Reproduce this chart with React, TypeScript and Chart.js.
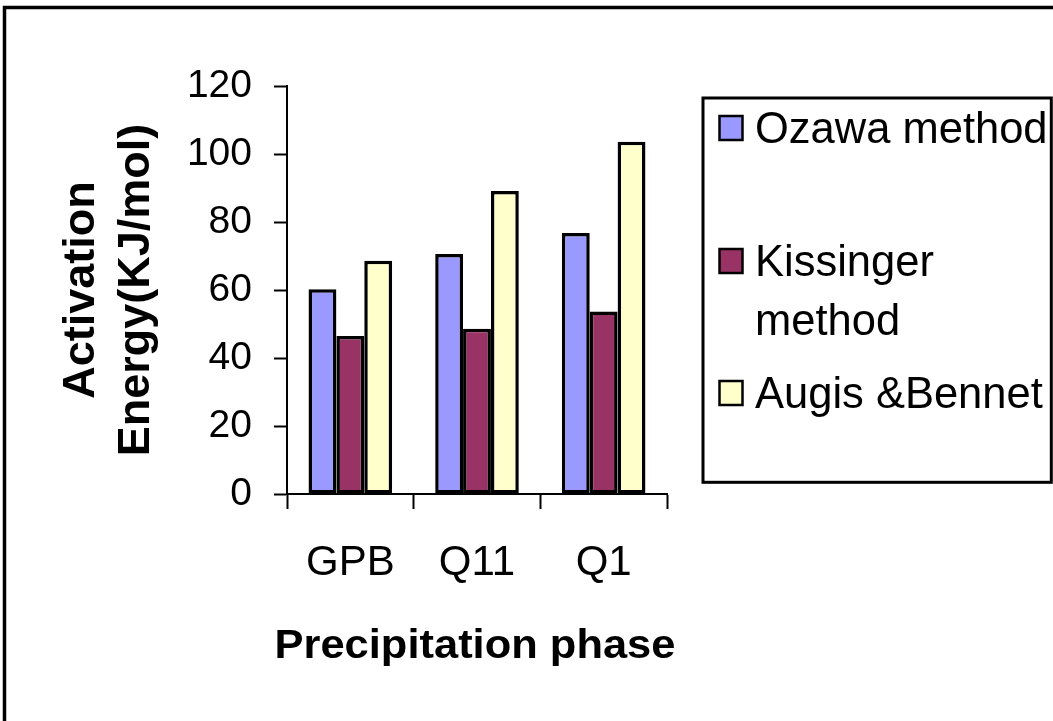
import { useEffect, useRef } from "react";
import { Chart, registerables } from "chart.js";

Chart.register(...registerables);

// Activation energy (kJ/mol) per precipitation phase and evaluation method
const phases = ["GPB", "Q11", "Q1"];
const ozawa = [60.2, 70.6, 76.8];
const kissinger = [46.5, 48.6, 53.7];
const augisBennet = [68.6, 89.1, 103.6];

const seriesNames = ["Ozawa method", "Kissinger method", "Augis &Bennet"];
const legendLines = [["Ozawa method"], ["Kissinger", "method"], ["Augis &Bennet"]];
const seriesColors = ["#9999FF", "#993366", "#FFFFCC"];

const yTicks = { min: 0, max: 120, step: 20 };
const yTitle = ["Activation", "Energy(KJ/mol)"];
const xTitle = "Precipitation phase";

const FONT = '"Liberation Sans", Arial, sans-serif';

// White page with the heavy outline along the top and left edges
const framePlugin = {
  id: "frame",
  beforeDraw(chart: any) {
    const { ctx, width, height } = chart;
    ctx.save();
    ctx.fillStyle = "#ffffff";
    ctx.fillRect(0, 0, width, height);
    ctx.strokeStyle = "#000000";
    ctx.lineWidth = 3.5;
    ctx.strokeRect(4.5, 7.5, width + 40, height + 40);
    ctx.restore();
  },
};

// Bold category-axis title, slightly widened, centred under the plot
const xTitlePlugin = {
  id: "xTitle",
  afterDraw(chart: any) {
    const { ctx, chartArea } = chart;
    const cx = (chartArea.left + chartArea.right) / 2 - 2;
    ctx.save();
    ctx.translate(cx, 647);
    ctx.scale(1.06, 1);
    ctx.fillStyle = "#000000";
    ctx.font = `bold 41px ${FONT}`;
    ctx.textAlign = "center";
    ctx.textBaseline = "middle";
    ctx.fillText(xTitle, 0, 0);
    ctx.restore();
  },
};

// Boxed legend on the right, with the long label wrapped onto two lines
const boxedLegendPlugin = {
  id: "boxedLegend",
  afterDraw(chart: any) {
    const { ctx } = chart;
    const box = { left: 703, top: 98, right: 1051.3, bottom: 482.3 };
    const baselines = [[143], [276, 335], [408]];
    ctx.save();
    ctx.strokeStyle = "#000000";
    ctx.lineWidth = 3;
    ctx.strokeRect(box.left, box.top, box.right - box.left, box.bottom - box.top);
    chart.data.datasets.forEach((ds: any, i: number) => {
      const b = baselines[i];
      ctx.fillStyle = ds.backgroundColor;
      ctx.fillRect(719.5, b[0] - 27, 23, 24);
      ctx.lineWidth = 2.5;
      ctx.strokeStyle = "#000000";
      ctx.strokeRect(719.5, b[0] - 27, 23, 24);
      ctx.fillStyle = "#000000";
      ctx.font = `43.5px ${FONT}`;
      ctx.textBaseline = "alphabetic";
      ctx.textAlign = "left";
      legendLines[i].forEach((line, j) => ctx.fillText(line, 755, b[j]));
    });
    ctx.restore();
  },
};

export default function App() {
  const canvasRef = useRef<HTMLCanvasElement | null>(null);

  useEffect(() => {
    if (!canvasRef.current) return;
    const series = [ozawa, kissinger, augisBennet];
    const chart = new Chart(canvasRef.current, {
      type: "bar",
      data: {
        labels: phases,
        datasets: series.map((values, i) => ({
          label: seriesNames[i],
          data: values,
          backgroundColor: seriesColors[i],
          borderColor: "#000000",
          borderWidth: 3.5,
          borderSkipped: false,
          categoryPercentage: 0.66,
          barPercentage: 1.0,
        })),
      },
      options: {
        responsive: false,
        animation: false,
        devicePixelRatio: 1,
        layout: { padding: { top: 86, right: 386, bottom: 0, left: 0 } },
        plugins: {
          legend: { display: false },
          tooltip: { enabled: false },
        },
        scales: {
          x: {
            grid: {
              display: true,
              drawOnChartArea: false,
              drawTicks: true,
              tickLength: 15,
              tickWidth: 2,
              tickColor: "#000000",
              offset: true,
            },
            border: { display: true, color: "#000000", width: 2 },
            ticks: {
              color: "#000000",
              font: { family: FONT, size: 42 },
              padding: 29,
              maxRotation: 0,
              autoSkip: false,
            },
            title: { display: false },
            afterFit(scale: any) {
              scale.height = 227;
            },
          },
          y: {
            min: yTicks.min,
            max: yTicks.max,
            ticks: {
              stepSize: yTicks.step,
              color: "#000000",
              font: { family: FONT, size: 39 },
              padding: 22,
            },
            grid: {
              drawOnChartArea: false,
              drawTicks: true,
              tickLength: 13,
              tickWidth: 2,
              tickColor: "#000000",
            },
            border: { display: true, color: "#000000", width: 2 },
            title: {
              display: true,
              text: yTitle,
              color: "#000000",
              font: { family: FONT, size: 45, weight: "bold", lineHeight: 1.22 },
              padding: { top: 54, bottom: 0 },
            },
            afterFit(scale: any) {
              scale.width = 287;
            },
          },
        },
      } as any,
      plugins: [framePlugin, xTitlePlugin, boxedLegendPlugin],
    });
    return () => chart.destroy();
  }, []);

  return (
    <div style={{ position: "absolute", left: 0, top: 0, width: 1053, height: 721 }}>
      <canvas ref={canvasRef} width={1053} height={721} style={{ display: "block" }} />
    </div>
  );
}
